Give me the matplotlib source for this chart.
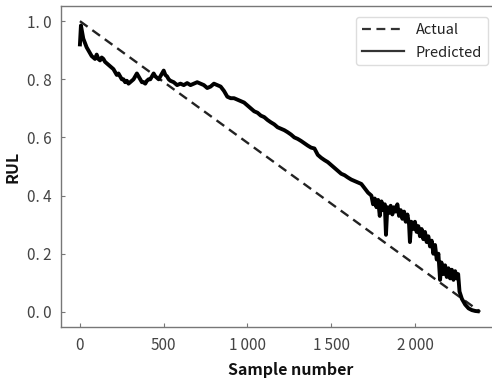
import numpy as np
import matplotlib
matplotlib.use("Agg")
from matplotlib import pyplot as plt

plt.rcParams['font.family'] = ['Noto Sans CJK SC', 'DejaVu Sans']

# actual RUL: straight line from 1 to 0
actual_x = [0, 2390]
actual_y = [1.0, 0.0]

# predicted RUL (sample, value)
pred_x = [0, 6, 20, 30, 40, 50, 60, 70, 80, 90, 100, 110, 120, 130, 140, 150, 160, 170,
          180, 190, 200, 210, 220, 230, 240, 250, 260, 270, 280, 290, 300, 310, 320, 330,
          340, 350, 360, 370, 380, 390, 400, 410, 420, 430, 440, 450, 460, 470, 480, 490,
          500, 510, 520, 530, 540, 560, 580, 600, 620, 640, 660, 680, 700, 720, 740, 760,
          780, 800, 820, 840, 860, 880, 900, 920, 940, 960, 980, 1000, 1020, 1040, 1060,
          1080, 1100, 1120, 1140, 1160, 1180, 1200, 1220, 1240, 1260, 1280, 1300, 1320,
          1340, 1360, 1380, 1400, 1420, 1440, 1460, 1480, 1500, 1520, 1540, 1560, 1580,
          1600, 1620, 1640, 1660, 1680, 1700, 1720, 1740, 1750, 1760, 1770, 1780, 1790,
          1800, 1810, 1820, 1827, 1835, 1845, 1855, 1865, 1875, 1885, 1895, 1905, 1915,
          1925, 1935, 1945, 1955, 1965, 1970, 1978, 1990, 2000, 2010, 2020, 2030, 2040,
          2050, 2060, 2070, 2080, 2090, 2100, 2110, 2120, 2130, 2140, 2150, 2158, 2170,
          2180, 2190, 2200, 2210, 2220, 2230, 2240, 2250, 2258, 2266, 2280, 2300, 2320,
          2340, 2360, 2375]
pred_y = [0.92, 0.985, 0.94, 0.925, 0.91, 0.90, 0.89, 0.88, 0.875, 0.87, 0.885, 0.87,
          0.865, 0.875, 0.87, 0.86, 0.855, 0.85, 0.845, 0.84, 0.835, 0.825, 0.815, 0.82,
          0.81, 0.80, 0.80, 0.79, 0.795, 0.785, 0.79, 0.795, 0.80, 0.81, 0.82, 0.81, 0.80,
          0.79, 0.79, 0.785, 0.795, 0.80, 0.80, 0.81, 0.82, 0.81, 0.805, 0.80, 0.81, 0.82,
          0.83, 0.815, 0.81, 0.80, 0.795, 0.79, 0.78, 0.785, 0.78, 0.787, 0.78, 0.785, 0.79,
          0.785, 0.78, 0.77, 0.775, 0.785, 0.78, 0.775, 0.76, 0.74, 0.735, 0.735, 0.73,
          0.725, 0.72, 0.71, 0.70, 0.69, 0.685, 0.675, 0.67, 0.66, 0.652, 0.645, 0.635,
          0.63, 0.625, 0.618, 0.61, 0.60, 0.595, 0.588, 0.58, 0.572, 0.565, 0.562, 0.54,
          0.53, 0.522, 0.515, 0.505, 0.495, 0.485, 0.475, 0.47, 0.462, 0.455, 0.45, 0.445,
          0.44, 0.425, 0.41, 0.40, 0.37, 0.39, 0.36, 0.385, 0.33, 0.38, 0.35, 0.37, 0.265,
          0.36, 0.34, 0.365, 0.335, 0.36, 0.345, 0.37, 0.33, 0.35, 0.32, 0.345, 0.31, 0.335,
          0.30, 0.24, 0.31, 0.285, 0.31, 0.275, 0.295, 0.26, 0.285, 0.25, 0.275, 0.24, 0.26,
          0.225, 0.245, 0.20, 0.23, 0.18, 0.20, 0.11, 0.17, 0.13, 0.16, 0.12, 0.15, 0.115,
          0.145, 0.11, 0.14, 0.115, 0.13, 0.07, 0.045, 0.025, 0.012, 0.006, 0.003, 0.002]

xticks = [0, 500, 1000, 1500, 2000]
xtick_labels = ['0', '500', '1\u2009000', '1\u2009500', '2\u2009000']
yticks = [0.0, 0.2, 0.4, 0.6, 0.8, 1.0]
ytick_labels = ['0. 0', '0. 2', '0. 4', '0. 6', '0. 8', '1. 0']

fig = plt.figure(figsize=(4.92, 3.78), dpi=100)
ax = fig.add_axes([0.124, 0.135, 0.876, 0.849])

ax.plot(actual_x, actual_y, '--', color='#222222', linewidth=1.7, dashes=(4, 2.5), label='Actual')
ax.plot(pred_x, pred_y, '-', color='black', linewidth=2.8, label='Predicted')

ax.set_xlim(-113, 2460)
ax.set_ylim(-0.052, 1.052)
ax.set_xticks(xticks)
ax.set_xticklabels(xtick_labels)
ax.set_yticks(yticks)
ax.set_yticklabels(ytick_labels)
ax.tick_params(direction='in', length=3, width=0.8, colors='#777777', labelcolor='#444444',
               labelsize=11, pad=7)

for s in ['left', 'bottom', 'top']:
    ax.spines[s].set_color('#777777')
    ax.spines[s].set_linewidth(1.0)
ax.spines['right'].set_visible(False)

ax.set_xlabel('Sample number', fontsize=11.5, fontweight='bold', color='#111111')
ax.set_ylabel('RUL', fontsize=11.5, fontweight='bold', color='#111111')
ax.xaxis.set_label_coords(0.534, -0.11)
ax.yaxis.set_label_coords(-0.095, 0.5)

leg = ax.legend(loc='upper right', bbox_to_anchor=(0.991, 0.966), borderaxespad=0,
                fontsize=10.5, handlelength=2.9, labelspacing=0.6, fancybox=True,
                framealpha=1, edgecolor='#dddddd')
for t in leg.get_texts():
    t.set_color('#222222')
for line in leg.get_lines():
    line.set_linewidth(1.6)
    line.set_color('#333333')

plt.savefig('out.png', dpi=100)
